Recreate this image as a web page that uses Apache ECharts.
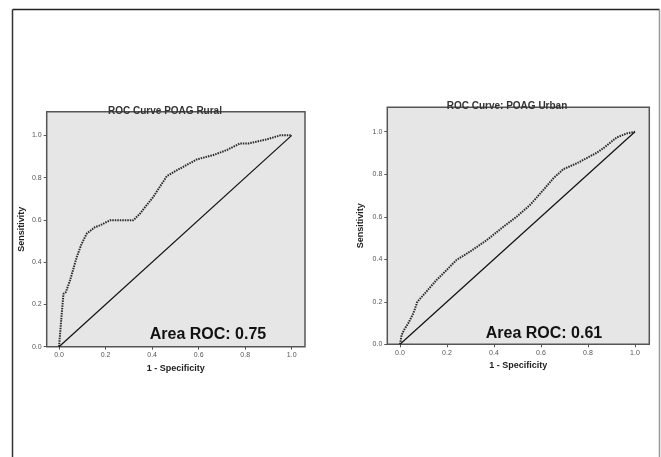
<!DOCTYPE html>
<html>
<head>
<meta charset="utf-8">
<script src="https://cdn.jsdelivr.net/npm/echarts@6/dist/echarts.min.js"></script>
<style>
  html, body { margin: 0; padding: 0; background: #fff; }
  #main { width: 661px; height: 457px; }
</style>
</head>
<body>
<div id="main"></div>
<script>
// ROC points: [1 - specificity, sensitivity]
var ruralRoc = [
  [0, 0], [0.009, 0.123], [0.019, 0.25], [0.029, 0.258], [0.047, 0.313],
  [0.076, 0.424], [0.097, 0.487], [0.119, 0.535], [0.155, 0.566], [0.176, 0.574],
  [0.219, 0.598], [0.319, 0.598], [0.348, 0.63], [0.405, 0.709], [0.463, 0.807],
  [0.52, 0.843], [0.592, 0.886], [0.663, 0.907], [0.72, 0.93], [0.778, 0.962],
  [0.814, 0.962], [0.893, 0.981], [0.95, 1.0], [1, 1]
]
var urbanRoc = [
  [0, 0], [0.007, 0.044], [0.017, 0.067], [0.035, 0.099], [0.057, 0.146],
  [0.074, 0.2], [0.106, 0.24], [0.156, 0.303], [0.199, 0.35], [0.241, 0.397],
  [0.298, 0.436], [0.369, 0.49], [0.44, 0.553], [0.496, 0.6], [0.553, 0.655],
  [0.61, 0.726], [0.652, 0.78], [0.695, 0.824], [0.752, 0.851], [0.837, 0.901],
  [0.865, 0.922], [0.922, 0.973], [0.965, 0.992], [1, 1]
]
var refLine = [[0, 0], [1, 1]]
var tickValues = [0, 0.2, 0.4, 0.6, 0.8, 1.0]
var titles = ['ROC Curve POAG Rural', 'ROC Curve: POAG Urban']
var areaLabels = ['Area ROC: 0.75', 'Area ROC: 0.61']

var myChart = echarts.init(document.getElementById('main'))
var font = 'Liberation Sans, Arial, sans-serif'

var makeX = function (idx, min, max) {
  return {
    type: 'value', gridIndex: idx, min: min, max: max, position: 'bottom',
    name: '1 - Specificity', nameLocation: 'middle', nameGap: 16,
    nameTextStyle: { fontFamily: font, fontSize: 9, fontWeight: 'bold', color: '#222' },
    splitLine: { show: false },
    axisLine: { show: false, onZero: false },
    axisTick: { show: true, length: 3, customValues: tickValues, lineStyle: { color: '#555' } },
    axisLabel: {
      customValues: tickValues, fontFamily: font, fontSize: 7, color: '#555', margin: 5,
      formatter: function (v) { return v.toFixed(1) }
    }
  }
}
var makeY = function (idx, max, gap) {
  return {
    type: 'value', gridIndex: idx, min: 0, max: max, position: 'left',
    name: 'Sensitivity', nameLocation: 'middle', nameGap: gap,
    nameTextStyle: { fontFamily: font, fontSize: 9, fontWeight: 'bold', color: '#222' },
    splitLine: { show: false },
    axisLine: { show: false, onZero: false },
    axisTick: { show: true, length: 3, customValues: tickValues, lineStyle: { color: '#555' } },
    axisLabel: {
      customValues: tickValues, fontFamily: font, fontSize: 7, color: '#555', margin: 5,
      formatter: function (v) { return v.toFixed(1) }
    }
  }
}
var curve = function (idx, data) {
  return {
    type: 'line', xAxisIndex: idx, yAxisIndex: idx, data: data,
    showSymbol: false, smooth: false, animation: false,
    lineStyle: { color: '#2a2a2a', width: 2, type: [1.5, 1] }
  }
}
var diag = function (idx) {
  return {
    type: 'line', xAxisIndex: idx, yAxisIndex: idx, data: refLine,
    showSymbol: false, animation: false,
    lineStyle: { color: '#111', width: 1.2 }
  }
}

var option = {
  backgroundColor: '#fff',
  animation: false,
  grid: [
    { left: 46.7, top: 111.7, width: 258.3, height: 235, show: true,
      backgroundColor: '#e6e6e6', borderColor: '#555', borderWidth: 1.5 },
    { left: 387.3, top: 107.3, width: 262, height: 237, show: true,
      backgroundColor: '#e6e6e6', borderColor: '#555', borderWidth: 1.5 }
  ],
  xAxis: [makeX(0, -0.053, 1.057), makeX(1, -0.054, 1.061)],
  yAxis: [makeY(0, 1.112, 21), makeY(1, 1.115, 22)],
  title: [
    { text: titles[0], left: 160, top: 101, textAlign: 'center',
      textStyle: { fontFamily: font, fontSize: 10, fontWeight: 'bold', color: '#333' } },
    { text: titles[1], left: 502, top: 96, textAlign: 'center',
      textStyle: { fontFamily: font, fontSize: 10, fontWeight: 'bold', color: '#333' } },
    { text: areaLabels[0], left: 203, top: 322, textAlign: 'center',
      textStyle: { fontFamily: font, fontSize: 16, fontWeight: 'bold', color: '#111' } },
    { text: areaLabels[1], left: 539, top: 321, textAlign: 'center',
      textStyle: { fontFamily: font, fontSize: 16, fontWeight: 'bold', color: '#111' } }
  ],
  graphic: [
    { type: 'line', shape: { x1: 12.5, y1: 9.5, x2: 659.5, y2: 9.5 }, style: { stroke: '#222', lineWidth: 1.5 } },
    { type: 'line', shape: { x1: 12.5, y1: 9.5, x2: 12.5, y2: 457 }, style: { stroke: '#333', lineWidth: 1.5 } },
    { type: 'line', shape: { x1: 659.5, y1: 9.5, x2: 659.5, y2: 457 }, style: { stroke: '#999', lineWidth: 1.5 } }
  ],
  series: [curve(0, ruralRoc), diag(0), curve(1, urbanRoc), diag(1)]
}
myChart.setOption(option)
</script>
</body>
</html>
